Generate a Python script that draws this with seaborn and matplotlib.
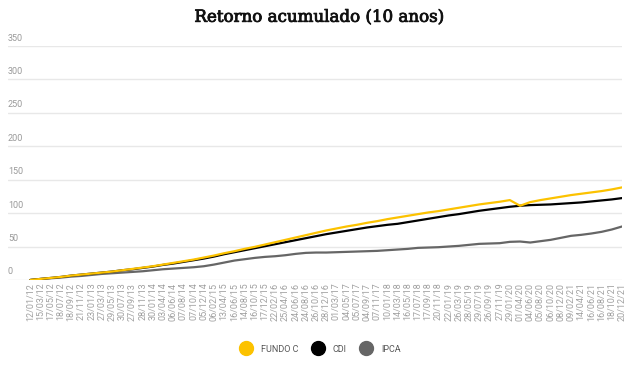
import matplotlib
matplotlib.use("Agg")
import matplotlib.pyplot as plt
import matplotlib.patheffects as pe
from matplotlib.lines import Line2D
import pandas as pd
import seaborn as sns

DATES = [
    "12/01/12", "15/03/12", "17/05/12", "18/07/12", "18/09/12", "21/11/12",
    "23/01/13", "27/03/13", "29/05/13", "30/07/13", "27/09/13", "28/11/13",
    "30/01/14", "03/04/14", "06/06/14", "07/08/14", "07/10/14", "05/12/14",
    "06/02/15", "13/04/15", "16/06/15", "14/08/15", "16/10/15", "17/12/15",
    "22/02/16", "25/04/16", "24/06/16", "24/08/16", "26/10/16", "28/12/16",
    "01/03/17", "04/05/17", "05/07/17", "04/09/17", "07/11/17",
    "10/01/18", "14/03/18", "16/05/18", "17/07/18", "17/09/18", "20/11/18",
    "22/01/19", "26/03/19", "28/05/19", "29/07/19", "26/09/19", "27/11/19",
    "29/01/20", "01/04/20", "04/06/20", "05/08/20", "06/10/20", "08/12/20",
    "09/02/21", "14/04/21", "16/06/21", "16/08/21", "18/10/21", "20/12/21",
]

FUNDO_C = [
    0, 1.5, 3, 4.5, 6.5, 8, 9.5, 11, 12.5, 14.5,
    16.5, 18.5, 20.5, 23, 25.5, 28, 30.5, 33.5, 36.5, 40,
    43, 46.5, 49.5, 53, 56.5, 60, 63.5, 67, 70.5, 74,
    77, 80, 82.5, 85.5, 88, 91, 93.5, 96, 98.5, 101,
    103, 105.5, 108, 110.5, 113, 115, 117, 119.5, 111, 116.5,
    119.5, 122, 124.5, 127, 129, 131, 133, 135.5, 138.5,
]
CDI = [
    0, 1.5, 3, 4.5, 6.5, 8, 9.5, 11, 12.5, 14.5,
    16, 18, 20, 22.5, 24.5, 27, 29.5, 32, 35, 38.5,
    41.5, 44.5, 47.5, 50.5, 53.5, 56.5, 59.5, 62.5, 65.5, 68.5,
    71, 73.5, 76, 78.5, 80.5, 82.5, 84, 86.5, 89, 91.5,
    94, 96.5, 98.5, 101, 103.5, 105.5, 107.5, 109.5, 111, 112,
    112.5, 113, 114, 115, 116, 117.5, 119, 120.5, 122.5,
]
IPCA = [
    0, 1.5, 2.5, 3.5, 5, 6, 7.5, 9, 10, 11,
    12, 13, 14.5, 16, 17, 18, 19, 20.5, 23, 26,
    29, 31, 33, 34.5, 35.5, 37, 39, 40.5, 41, 41,
    41.5, 42, 42.5, 43, 43.5, 44.5, 45.5, 46.5, 48, 48.5,
    49, 50, 51, 52.5, 54, 54.5, 55, 57, 57.5, 56,
    58, 60, 63, 66, 67.5, 69.5, 72, 75.5, 80,
]
SERIES = ["FUNDO C", "CDI", "IPCA"]
COLORS = {"FUNDO C": "#fcc200", "CDI": "#000000", "IPCA": "#666666"}
Y_TICKS = [0, 50, 100, 150, 200, 250, 300, 350]

frames = []
for name, values in zip(SERIES, [FUNDO_C, CDI, IPCA]):
    frames.append(pd.DataFrame({"pos": range(len(DATES)), "valor": values, "serie": name}))
df = pd.concat(frames, ignore_index=True)

sns.set_style("white")
plt.rcParams["font.family"] = ["Roboto", "DejaVu Sans"]

fig = plt.figure(figsize=(6.38, 3.84), dpi=100)
ax = fig.add_axes([0.0125, 0.271, 0.9625, 0.609])

ax.yaxis.grid(True, color="#e8e8e8", linewidth=1.0)
ax.set_axisbelow(True)
sns.lineplot(data=df, x="pos", y="valor", hue="serie", hue_order=SERIES[::-1],
             palette=COLORS, linewidth=1.6, legend=False, ax=ax)

ax.set_xlim(-2.2, len(DATES) - 1)
ax.set_ylim(0, 350)
ax.set_yticks(Y_TICKS)
ax.tick_params(axis="y", length=0, labelleft=False)
for v in Y_TICKS:
    ax.annotate(str(v), xy=(0, v), xycoords=("axes fraction", "data"), xytext=(0, 2.5),
                textcoords="offset points", ha="left", va="bottom", fontsize=6.5, color="#999999")

ax.set_xticks(range(len(DATES)))
ax.set_xticklabels(DATES, rotation=90, fontsize=6.5, color="#a0a0a0")
ax.tick_params(axis="x", length=0, pad=2)
ax.set_xlabel("")
ax.set_ylabel("")
for spine in ax.spines.values():
    spine.set_visible(False)

fig.text(0.5, 0.955, "Retorno acumulado (10 anos)", ha="center", va="center",
         fontsize=12, family="DejaVu Serif", color="#111111",
         path_effects=[pe.withStroke(linewidth=0.6, foreground="#111111")])

handles = [Line2D([], [], marker="o", linestyle="", markersize=10, color=COLORS[s]) for s in SERIES]
fig.legend(handles, SERIES, loc="center", bbox_to_anchor=(0.5, 0.091), ncol=3, frameon=False,
           fontsize=6.5, labelcolor="#555555", handletextpad=0.6, columnspacing=1.2)

fig.savefig("out.png", dpi=100)
